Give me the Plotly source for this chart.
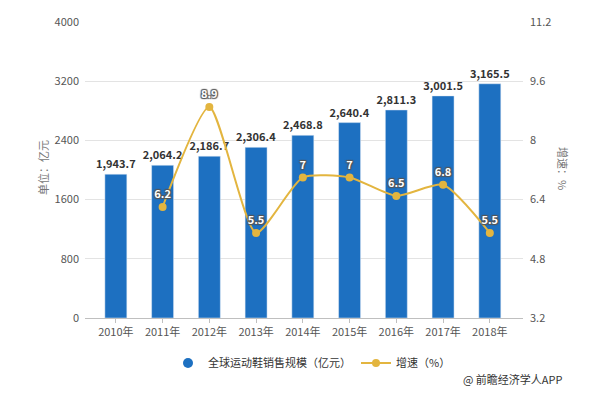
import plotly.graph_objects as go

years = ["2010年", "2011年", "2012年", "2013年", "2014年", "2015年", "2016年", "2017年", "2018年"]
sales = [1943.7, 2064.2, 2186.7, 2306.4, 2468.8, 2640.4, 2811.3, 3001.5, 3165.5]
growth_years = ["2011年", "2012年", "2013年", "2014年", "2015年", "2016年", "2017年", "2018年"]
growth = [6.2, 8.9, 5.5, 7, 7, 6.5, 6.8, 5.5]

left_ticks = [0, 800, 1600, 2400, 3200, 4000]
right_ticks = [3.2, 4.8, 6.4, 8, 9.6, 11.2]

FONT = "Noto Sans CJK SC, Microsoft YaHei, sans-serif"
BLUE = "#1d70c1"
GOLD = "#e3b53f"

W, H = 600, 394
ML, MR, MT, MB = 85, 77, 22, 76
PW, PH = W - ML - MR, H - MT - MB


def px_to_paper(x, y):
    return (x - ML) / PW, (H - MB - y) / PH


fig = go.Figure()
fig.add_trace(go.Bar(
    x=years, y=sales, name="全球运动鞋销售规模（亿元）", showlegend=False,
    marker=dict(color=BLUE), width=0.47,
    text=[f"{v:,.1f}" for v in sales], textposition="outside",
    constraintext="none",
    textfont=dict(size=11, color="#333333", family=FONT, weight="bold"),
    cliponaxis=False,
))
# legend entry for bars (circle symbol as in the reference)
fig.add_trace(go.Scatter(
    x=[None], y=[None], name="全球运动鞋销售规模（亿元）", mode="markers",
    marker=dict(color=BLUE, size=10, symbol="circle"),
))
fig.add_trace(go.Scatter(
    x=growth_years, y=growth, name="增速（%）", yaxis="y2",
    mode="lines+markers+text",
    line=dict(color=GOLD, width=2, shape="spline", smoothing=0.6),
    marker=dict(color=GOLD, size=8),
    text=[f"{v:g}" for v in growth], textposition="top center",
    textfont=dict(size=11, color="white", family=FONT, weight="bold",
                  shadow="1px 1px 1px #555555, -1px -1px 1px #555555, 1px -1px 1px #555555, -1px 1px 1px #555555"),
    cliponaxis=False,
))

lx, ly = px_to_paper(43, 168)
rx, ry = px_to_paper(563, 168)
sx, sy = px_to_paper(565, 379)

fig.update_layout(
    width=W, height=H,
    margin=dict(l=ML, r=MR, t=MT, b=MB, autoexpand=False),
    paper_bgcolor="white", plot_bgcolor="white",
    font=dict(family=FONT, color="#555555", size=11),
    xaxis=dict(
        type="category", range=[-0.66, 8.71],
        showline=True, linecolor="#bfbfbf", linewidth=1,
        ticks="outside", ticklen=4, tickcolor="#bfbfbf",
        tickfont=dict(size=11, color="#555555"),
        showgrid=False,
    ),
    yaxis=dict(
        range=[0, 4000], tickvals=left_ticks,
        showgrid=True, gridcolor="#e3e3e3", gridwidth=1,
        zeroline=False, tickfont=dict(size=11, color="#555555"),
        ticks="", ticklabelstandoff=5,
    ),
    yaxis2=dict(
        range=[3.2, 11.2], tickvals=right_ticks, ticktext=[f"{t:g}" for t in right_ticks],
        overlaying="y", side="right", showgrid=False, zeroline=False,
        tickfont=dict(size=11, color="#555555"), ticklabelstandoff=6,
    ),
    legend=dict(
        orientation="h", x=0.52, xanchor="center", y=(H - 363) / H, yanchor="middle",
        xref="container", yref="container",
        font=dict(size=11, color="#333333"), itemwidth=30,
        traceorder="normal",
    ),
    annotations=[
        dict(text="单位：亿元", textangle=-90, x=lx, y=ly, xref="paper", yref="paper",
             xanchor="center", yanchor="middle", showarrow=False,
             font=dict(size=11, color="#777777")),
        dict(text="增速：%", textangle=90, x=rx, y=ry, xref="paper", yref="paper",
             xanchor="center", yanchor="middle", showarrow=False,
             font=dict(size=11, color="#777777")),
        dict(text="@ 前瞻经济学人APP", x=sx, y=sy, xref="paper", yref="paper",
             xanchor="right", yanchor="middle", showarrow=False,
             font=dict(size=11, color="#333333")),
    ],
)

fig.write_html(
    "out.html",
    config={"displayModeBar": False},
    post_script="document.body.style.margin='0';document.body.style.overflow='hidden';",
)
